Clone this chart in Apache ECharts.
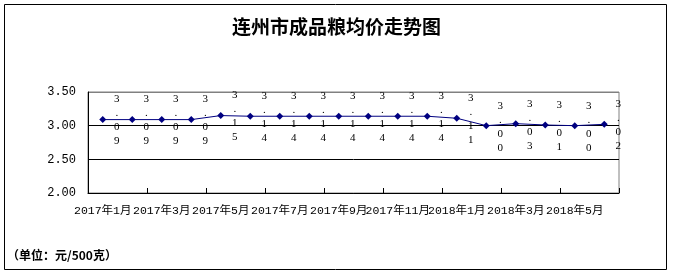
<!DOCTYPE html>
<html>
<head>
<meta charset="utf-8">
<script src="https://cdn.jsdelivr.net/npm/echarts@6/dist/echarts.min.js"></script>
<style>
  html, body { margin: 0; padding: 0; background: #fff; }
  #chart { width: 673px; height: 276px; }
</style>
</head>
<body>
<div id="chart"></div>
<script>
// Monthly average price of finished grain, Lianzhou (yuan / 500 g)
const months = [
  '2017年1月', '2017年2月', '2017年3月', '2017年4月', '2017年5月', '2017年6月',
  '2017年7月', '2017年8月', '2017年9月', '2017年10月', '2017年11月', '2017年12月',
  '2018年1月', '2018年2月', '2018年3月', '2018年4月', '2018年5月', '2018年6月'
];
const prices = [
  3.09, 3.09, 3.09, 3.09, 3.15, 3.14,
  3.14, 3.14, 3.14, 3.14, 3.14, 3.14,
  3.11, 3.00, 3.03, 3.01, 3.00, 3.02
];
const titleText = '连州市成品粮均价走势图';
const unitText = '（单位：元/500克）';
const yTicks = [2.00, 2.50, 3.00, 3.50];

const chart = echarts.init(document.getElementById('chart'), null, { renderer: 'canvas' });

// value label written one character per line
const verticalLabel = v => v.toFixed(2).split('').join('\n');

chart.setOption({
  backgroundColor: '#fff',
  animation: false,
  title: {
    text: titleText,
    left: 'center',
    top: 12,
    textStyle: { fontFamily: 'Noto Sans CJK SC', fontSize: 19, fontWeight: 'bold', color: '#000' }
  },
  graphic: [
    {
      type: 'rect',
      shape: { x: 4.5, y: 4.5, width: 662, height: 265 },
      style: { fill: 'none', stroke: '#000', lineWidth: 1 },
      silent: true
    },
    {
      type: 'text',
      left: 7,
      top: 249,
      style: {
        text: unitText,
        font: 'bold 12px "Noto Sans CJK SC"',
        fill: '#000'
      }
    }
  ],
  grid: {
    left: 88, right: 54, top: 92, bottom: 83,
    show: true, borderColor: '#808080', borderWidth: 1, backgroundColor: 'transparent'
  },
  xAxis: {
    type: 'category',
    data: months,
    boundaryGap: true,
    axisLine: { show: true, lineStyle: { color: '#000', width: 1 } },
    axisTick: { show: true, inside: true, length: 5, interval: 1, lineStyle: { color: '#000' } },
    axisLabel: {
      interval: 1,
      margin: 12,
      hideOverlap: false,
      showMinLabel: true,
      fontFamily: '"Liberation Mono", "Noto Sans CJK SC"',
      fontSize: 11.5,
      color: '#000'
    },
    splitLine: { show: false }
  },
  yAxis: {
    type: 'value',
    min: yTicks[0],
    max: yTicks[yTicks.length - 1],
    interval: 0.5,
    axisLine: { show: true, lineStyle: { color: '#000', width: 1 } },
    axisTick: { show: false },
    axisLabel: {
      margin: 12,
      fontFamily: '"Liberation Mono"',
      fontSize: 12,
      color: '#000',
      formatter: v => v.toFixed(2)
    },
    splitLine: { show: true, lineStyle: { color: ['#000', '#000', '#000', '#808080'], width: 1 } }
  },
  series: [{
    type: 'line',
    data: prices,
    symbol: 'diamond',
    symbolSize: 7,
    lineStyle: { color: '#000080', width: 1 },
    itemStyle: { color: '#000080' },
    label: {
      show: true,
      position: 'inside',
      offset: [14, 1],
      formatter: p => verticalLabel(p.value),
      fontFamily: '"Liberation Serif"',
      fontSize: 11,
      lineHeight: 14,
      color: '#000'
    }
  }]
});
</script>
</body>
</html>
